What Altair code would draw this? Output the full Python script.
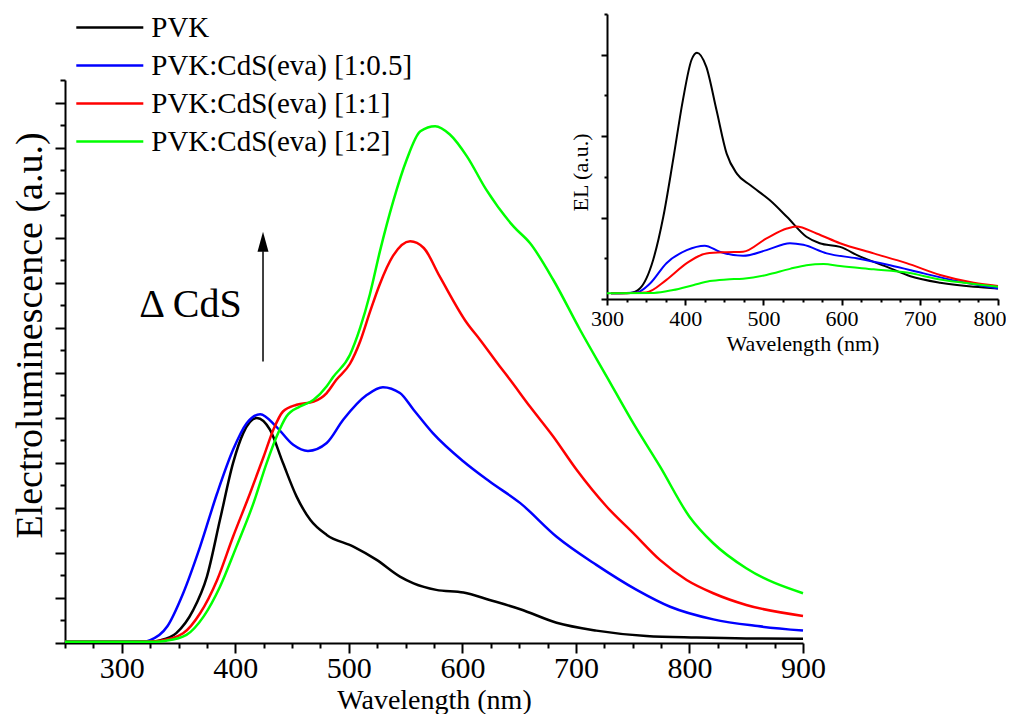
import altair as alt
import pandas as pd

FONT = "Liberation Serif"
SERIES = ["PVK", "PVK:CdS(eva) [1:0.5]", "PVK:CdS(eva) [1:1]", "PVK:CdS(eva) [1:2]"]
COLORS = ["#000000", "#0000ff", "#ff0000", "#00ff00"]

# ---------------- main panel (EL, a.u.) ----------------
pvk_wl = [250, 300, 330, 334, 348, 363, 375, 386.5, 398, 407, 419, 430.5, 442, 454, 466, 480.5,
          504, 524.5, 545, 557, 577, 601, 624, 651, 683, 718, 762, 806, 850, 900]
pvk_el = [0.06, 0.06, 0.08, 0.12, 0.44, 1.47, 2.95, 5.47, 7.99, 9.32, 9.99, 9.47, 7.99, 6.5, 5.47, 4.8,
          4.28, 3.69, 2.95, 2.65, 2.36, 2.24, 1.91, 1.5, 0.9, 0.55, 0.31, 0.24, 0.2, 0.19]

b05_wl = [250, 300, 320, 325, 340, 354, 369, 384, 398, 410, 422, 436, 451, 464, 480.5, 495, 516, 530,
          545, 557, 574, 601, 624, 651, 683, 718, 753.5, 783, 821, 860, 900]
b05_el = [0.06, 0.06, 0.07, 0.13, 0.73, 2.2, 4.28, 6.65, 8.58, 9.76, 10.16, 9.61, 8.8, 8.53, 8.88, 9.91,
          11.02, 11.36, 11.1, 10.36, 9.32, 8.06, 7.17, 6.21, 4.72, 3.47, 2.36, 1.61, 1.05, 0.75, 0.55]

b1_wl = [250, 300, 325, 334, 354, 369, 384, 398, 413, 425, 433.5, 442, 454, 469, 480.5, 489, 501, 510,
         518.6, 527, 539, 554, 566, 580, 604, 615.5, 633, 642, 659.5, 680, 700.6, 727, 750.5, 774,
         797.5, 821, 850, 900]
b1_el = [0.06, 0.06, 0.07, 0.1, 0.43, 1.32, 2.8, 4.72, 6.65, 8.28, 9.47, 10.28, 10.58, 10.72, 11.1, 11.69,
         12.4, 13.4, 14.7, 15.9, 17.2, 17.84, 17.54, 16.28, 14.21, 13.47, 12.28, 11.69, 10.5, 9.17,
         7.69, 6.06, 4.88, 3.69, 2.8, 2.21, 1.69, 1.2]

b2_wl = [250, 300, 330, 339, 357, 372, 386.5, 401, 416, 427.6, 436.4, 445, 457, 469, 480.5, 486, 501,
         510, 518.6, 527.4, 539, 551, 563, 576, 589, 604, 621, 645, 659.5, 680, 703.6, 727, 750.5,
         774, 800, 821, 850, 900]
b2_el = [0.06, 0.06, 0.06, 0.1, 0.36, 1.17, 2.5, 4.28, 6.21, 7.99, 9.17, 10.06, 10.5, 10.8, 11.4, 11.8,
         12.8, 14.0, 15.5, 17.4, 19.6, 21.47, 22.72, 22.95, 22.58, 21.61, 20.13, 18.5, 17.76, 16.13,
         13.91, 11.84, 9.76, 7.84, 5.61, 4.43, 3.32, 2.21]

# ---------------- inset (EL, a.u.) ----------------
ipvk_wl = [305, 330, 342, 359, 372, 384.5, 397, 408, 415, 427, 440, 453, 466, 483, 508, 530, 555, 572,
           598, 624, 658, 688, 726, 769, 800]
ipvk_el = [0.14, 0.15, 0.26, 0.96, 2.02, 3.41, 4.88, 5.87, 6.05, 5.7, 4.64, 3.57, 3.08, 2.8, 2.43, 2.02,
           1.53, 1.37, 1.28, 1.04, 0.79, 0.56, 0.4, 0.3, 0.26]

ib05_wl = [305, 338, 355, 376, 402, 425, 444, 474, 504, 534, 551, 581, 619, 662, 705, 747, 800]
ib05_el = [0.14, 0.16, 0.38, 0.88, 1.2, 1.31, 1.16, 1.06, 1.2, 1.37, 1.33, 1.12, 1.0, 0.83, 0.63, 0.44, 0.26]

ib1_wl = [305, 350, 376, 402, 427, 453, 474, 504, 530, 542, 568, 598, 641, 683, 726, 769, 800]
ib1_el = [0.14, 0.16, 0.47, 0.88, 1.12, 1.15, 1.16, 1.49, 1.73, 1.78, 1.61, 1.37, 1.12, 0.88, 0.59, 0.4, 0.32]

ib2_wl = [300, 360, 384.5, 410, 431.5, 453, 474, 504, 534, 555, 577, 598, 641, 683, 726, 769, 800]
ib2_el = [0.14, 0.15, 0.22, 0.34, 0.44, 0.48, 0.5, 0.59, 0.74, 0.83, 0.86, 0.81, 0.73, 0.65, 0.48, 0.37, 0.3]

# ticks
main_x_major = list(range(300, 901, 100))
main_x_minor = [w for w in range(250, 901, 25) if w % 100 != 0]
main_y_major = list(range(0, 25, 2))
main_y_minor = list(range(1, 26, 2))
ins_x_major = list(range(300, 801, 100))
ins_x_minor = [w for w in range(325, 800, 25) if w % 100 != 0]
ins_y_major = [0, 2, 4, 6]
ins_y_minor = [1, 3, 5, 7]

# annotation (data coordinates of the main panel)
arrow_wl = 424.4
arrow_from, arrow_to, arrow_tip = 12.5, 17.4, 17.82
label_wl, label_el, label_text = 360.5, 14.49, "\u0394 CdS"


def frame(pairs):
    rows = []
    for name, wl, el in pairs:
        for w, e in zip(wl, el):
            rows.append({"series": name, "wl": w, "el": e})
    return pd.DataFrame(rows)


main_df = frame([(SERIES[0], pvk_wl, pvk_el), (SERIES[1], b05_wl, b05_el),
                 (SERIES[2], b1_wl, b1_el), (SERIES[3], b2_wl, b2_el)])
ins_df = frame([(SERIES[0], ipvk_wl, ipvk_el), (SERIES[1], ib05_wl, ib05_el),
                (SERIES[2], ib1_wl, ib1_el), (SERIES[3], ib2_wl, ib2_el)])

MX = alt.Scale(domain=[250, 900], nice=False, zero=False)
MY = alt.Scale(domain=[0, 25], nice=False, zero=False)
IX = alt.Scale(domain=[300, 800], range=[542, 933], nice=False, zero=False)
IY = alt.Scale(domain=[0, 7], range=[219, -66], nice=False, zero=False)

AX = dict(domainColor="black", domainWidth=2, tickColor="black", tickWidth=2, grid=False,
          labelColor="black", titleColor="black", labelFont=FONT, titleFont=FONT,
          titleFontWeight="normal", labelFlush=False)

color = alt.Color(
    "series:N",
    scale=alt.Scale(domain=SERIES, range=COLORS),
    legend=alt.Legend(
        orient="none", legendX=30.3, legendY=-67, title=None, symbolType="M-3,0L3,0",
        symbolSize=499, symbolStrokeWidth=2.5, labelFont=FONT, labelFontSize=29,
        labelColor="black", rowPadding=8, labelOffset=27, labelLimit=0, padding=0,
        symbolOffset=0,
    ),
)

main_lines = alt.Chart(main_df).mark_line(strokeWidth=2.5, interpolate="monotone").encode(
    x=alt.X("wl:Q", scale=MX, axis=alt.Axis(orient="bottom", values=main_x_major, tickSize=10,
                                           labelFontSize=30, labelPadding=0, title="Wavelength (nm)",
                                           titleFontSize=28, titlePadding=3, **AX)),
    y=alt.Y("el:Q", scale=MY, axis=alt.Axis(orient="left", values=main_y_major, tickSize=10,
                                           labels=False, title="Electroluminescence (a.u.)",
                                           titleFontSize=38, titleX=-35, titleY=255, titleAngle=-90,
                                           titleAlign="center", titleBaseline="middle", **AX)),
    color=color,
)

main_minor = alt.Chart(main_df).mark_line(strokeOpacity=0).encode(
    x=alt.X("wl:Q", scale=MX, axis=alt.Axis(orient="bottom", values=main_x_minor, tickSize=5,
                                           labels=False, domain=False, title="", **AX)),
    y=alt.Y("el:Q", scale=MY, axis=alt.Axis(orient="left", values=main_y_minor, tickSize=5,
                                           labels=False, domain=False, title="", **AX)),
)

last_label = "datum.value >= 800"
ins_lines = alt.Chart(ins_df).mark_line(strokeWidth=2, interpolate="monotone").encode(
    x=alt.X("wl:Q", scale=IX, axis=alt.Axis(
        orient="bottom", values=ins_x_major, tickSize=6, labelFontSize=22, labelPadding=3,
        labelAlign={"condition": {"test": last_label, "value": "right"}, "value": "center"},
        labelOffset={"condition": {"test": last_label, "value": 8}, "value": 0},
        offset=-344, title="Wavelength (nm)", titleFontSize=22, titlePadding=4, **AX)),
    y=alt.Y("el:Q", scale=IY, axis=alt.Axis(orient="left", values=ins_y_major, tickSize=6,
                                           labels=False, offset=-542, title="EL (a.u.)",
                                           titleFontSize=22, titleX=-27, titleY=92, titleAngle=-90,
                                           titleAlign="center", titleBaseline="middle", **AX)),
    color=color,
)

ins_minor = alt.Chart(ins_df).mark_line(strokeOpacity=0).encode(
    x=alt.X("wl:Q", scale=IX, axis=alt.Axis(orient="bottom", values=ins_x_minor, tickSize=3,
                                           labels=False, domain=False, offset=-344, title="", **AX)),
    y=alt.Y("el:Q", scale=IY, axis=alt.Axis(orient="left", values=ins_y_minor, tickSize=3,
                                           labels=False, domain=False, offset=-542, title="", **AX)),
)

arrow_df = pd.DataFrame({"wl": [arrow_wl], "lo": [arrow_from], "hi": [arrow_to], "tip": [arrow_tip]})
label_df = pd.DataFrame({"wl": [label_wl], "el": [label_el], "text": [label_text]})

arrow_shaft = alt.Chart(arrow_df).mark_rule(color="black", strokeWidth=1.5).encode(
    x=alt.X("wl:Q", scale=MX, axis=None),
    y=alt.Y("lo:Q", scale=MY, axis=None),
    y2="hi:Q",
)
arrow_head = alt.Chart(arrow_df).mark_point(
    shape="M0,-1L0.55,1L-0.55,1Z", filled=True, size=400, color="black", opacity=1
).encode(
    x=alt.X("wl:Q", scale=MX, axis=None),
    y=alt.Y("tip:Q", scale=MY, axis=None),
)
label = alt.Chart(label_df).mark_text(
    font=FONT, fontSize=40, align="center", baseline="alphabetic", color="black"
).encode(
    x=alt.X("wl:Q", scale=MX, axis=None),
    y=alt.Y("el:Q", scale=MY, axis=None),
    text="text:N",
)

chart = alt.layer(main_minor, ins_minor, main_lines, ins_lines, arrow_shaft, arrow_head, label).resolve_scale(
    x="independent", y="independent"
).properties(
    width=738, height=563,
    autosize=alt.AutoSizeParams(type="none"),
    padding={"left": 57, "top": 72, "right": 203, "bottom": 71},
).configure(font=FONT).configure_axis(labelFont=FONT, titleFont=FONT).configure_view(stroke="transparent")

chart.save("out.html", embed_options={"renderer": "svg", "actions": False})
